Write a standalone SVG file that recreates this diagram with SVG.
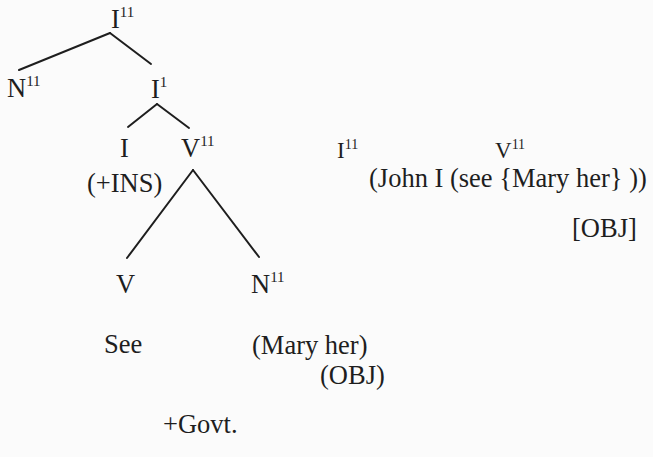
<svg xmlns="http://www.w3.org/2000/svg" width="653" height="457" viewBox="0 0 653 457">
<style>
text{font-family:"Liberation Serif","DejaVu Serif",serif;fill:#1e1e1e;font-size:26.5px}
.sup{font-size:15px}
.sm{font-size:23px}
.sm .sup{font-size:14px}
.e{stroke:#1e1e1e;stroke-width:2;fill:none;stroke-linecap:round}
</style>
<rect width="653" height="457" fill="#fbfbfb"/>
<g id="connectors">
<line class="e" x1="110" y1="33" x2="19" y2="70"/>
<line class="e" x1="110" y1="33" x2="151" y2="64"/>
<line class="e" x1="157" y1="104" x2="128" y2="127"/>
<line class="e" x1="157" y1="104" x2="189" y2="128"/>
<line class="e" x1="193" y1="170" x2="127" y2="258"/>
<line class="e" x1="193" y1="170" x2="259" y2="257"/>
</g>
<g id="n-I2"><text x="111" y="28">I<tspan class="sup" dy="-11">11</tspan></text></g>
<g id="n-N2"><text x="7" y="97">N<tspan class="sup" dy="-11">11</tspan></text></g>
<g id="n-I1"><text x="151" y="98">I<tspan class="sup" dy="-11">1</tspan></text></g>
<g id="n-I"><text x="120" y="157">I</text></g>
<g id="n-V2"><text x="181" y="157">V<tspan class="sup" dy="-11">11</tspan></text></g>
<g id="n-INS"><text x="87" y="192">(+INS)</text></g>
<g id="n-V"><text x="116" y="293">V</text></g>
<g id="n-N2b"><text x="251" y="293">N<tspan class="sup" dy="-11">11</tspan></text></g>
<g id="n-See"><text x="104" y="353">See</text></g>
<g id="n-Maryher"><text x="252" y="354">(Mary her)</text></g>
<g id="n-OBJ"><text x="320" y="384">(OBJ)</text></g>
<g id="n-Govt"><text x="163" y="433">+Govt.</text></g>
<g id="n-rI2"><text class="sm" x="337" y="158">I<tspan class="sup" dy="-9">11</tspan></text></g>
<g id="n-rV2"><text class="sm" x="495" y="158">V<tspan class="sup" dy="-9">11</tspan></text></g>
<g id="n-John"><text x="369" y="187">(John I (see {Mary her} ))</text></g>
<g id="n-OBJb"><text x="572" y="237">[OBJ]</text></g>
</svg>
